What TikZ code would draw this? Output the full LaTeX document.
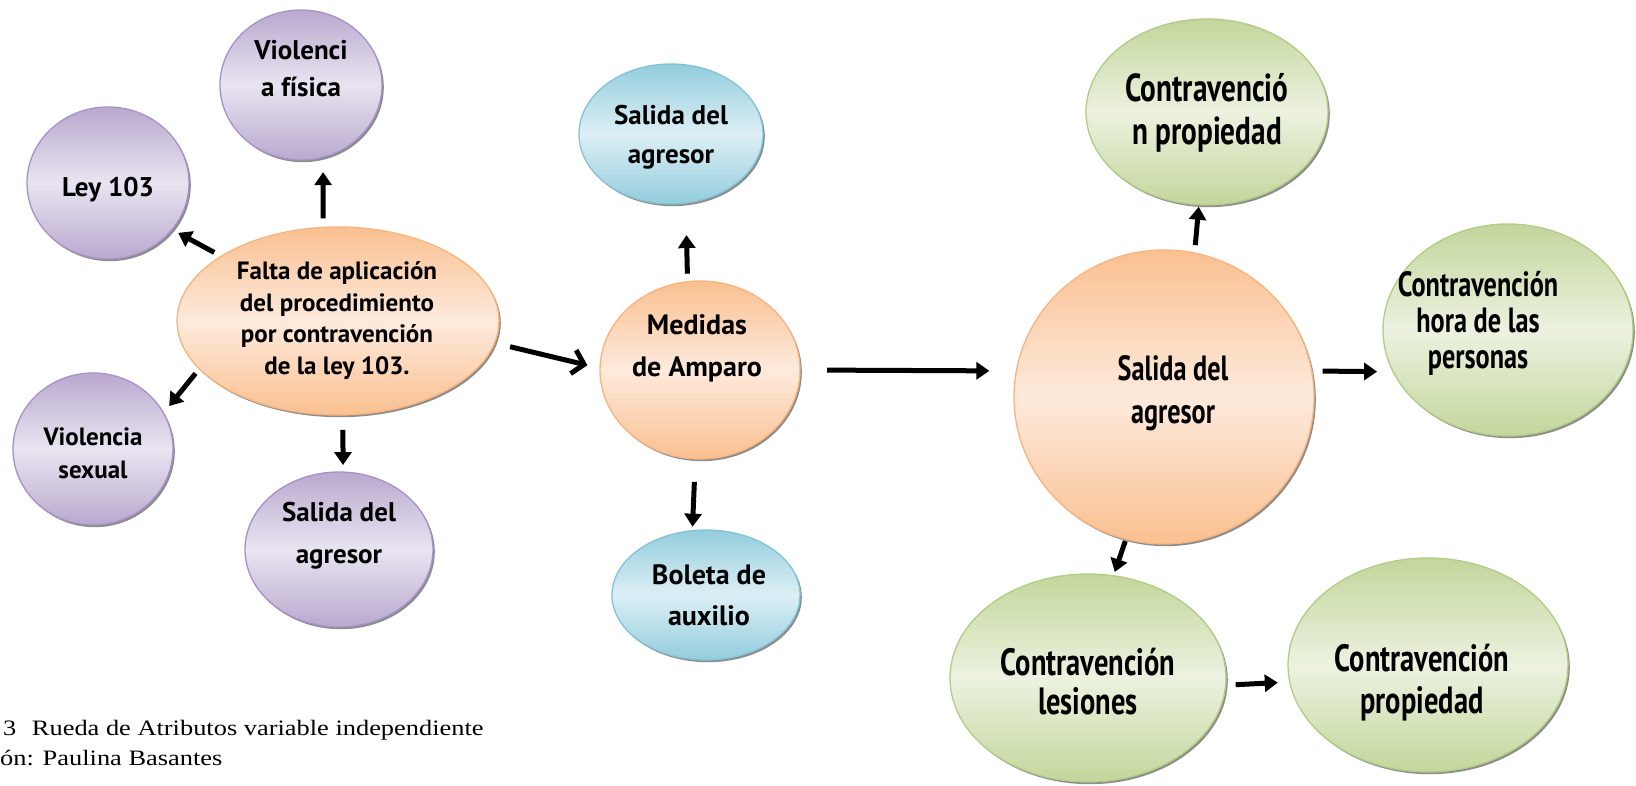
\documentclass[tikz,border=0pt]{standalone}
\usepackage{fontspec}
\newfontfamily\nfont{PT Sans}
\newfontfamily\cfont{Liberation Serif}
\usetikzlibrary{arrows.meta,shapes.geometric,shadows}
\definecolor{purD}{HTML}{B9A9CE}
\definecolor{purL}{HTML}{E9E4F1}
\definecolor{purE}{HTML}{A692C9}
\definecolor{oraD}{HTML}{FAC090}
\definecolor{oraL}{HTML}{FDEADC}
\definecolor{oraE}{HTML}{F8B47E}
\definecolor{bluD}{HTML}{93CDDD}
\definecolor{bluL}{HTML}{DCEFF5}
\definecolor{bluE}{HTML}{84C3D6}
\definecolor{greD}{HTML}{C3D69B}
\definecolor{greL}{HTML}{ECF2E0}
\definecolor{greE}{HTML}{B2CB85}
\newcommand{\cnd}[3]{\scalebox{0.75}[1]{\fontsize{#1}{#2}\selectfont\begin{tabular}{@{}c@{}}#3\end{tabular}}}
\tikzset{
  bub/.style={ellipse, inner sep=0pt, outer sep=0pt, line width=1.3pt, shading=axis, shading angle=-45,
    drop shadow={shadow xshift=1.8pt, shadow yshift=-2.2pt, fill=black!45, opacity=1}},
  pur/.style={bub, draw=purE, top color=purD, bottom color=purD, middle color=purL},
  ora/.style={bub, draw=oraE, top color=oraD, bottom color=oraD, middle color=oraL},
  blu/.style={bub, draw=bluE, top color=bluD, bottom color=bluD, middle color=bluL},
  gre/.style={bub, draw=greE, top color=greD, bottom color=greD, middle color=greL},
  lbl/.style={inner sep=0pt, align=center, text=black, font=\nfont\bfseries},
  fs/.style 2 args={font=\nfont\bfseries\fontsize{#1}{#2}\selectfont},
  arr/.style={line width=5pt, -{Triangle[length=13pt,width=17pt]}},
  barb/.style={line width=5pt, -{Straight Barb[length=11pt,width=24pt]}},
}
\begin{document}
\begin{tikzpicture}[x=1pt,y=-1pt]
\useasboundingbox (0,0) rectangle (1636,786);
% ellipses
\node[pur, minimum width=162pt, minimum height=150pt] (vf) at (301,85) {};
\node[pur, minimum width=162pt, minimum height=152pt] (ley) at (108,183) {};
\node[ora, minimum width=322pt, minimum height=188pt] (falta) at (338,321) {};
\node[pur, minimum width=160pt, minimum height=152pt] (vs) at (93,449) {};
\node[pur, minimum width=188pt, minimum height=155pt] (sp) at (339,549.5) {};
\node[blu, minimum width=184pt, minimum height=140pt] (sb) at (671,134) {};
\node[ora, minimum width=200pt, minimum height=178pt] (med) at (700,370) {};
\node[blu, minimum width=188pt, minimum height=130pt] (bol) at (706,595) {};
\node[ora, minimum width=300pt, minimum height=294pt] (big) at (1164,397) {};
\node[gre, minimum width=242pt, minimum height=186pt] (cp) at (1207,112) {};
\node[gre, minimum width=250pt, minimum height=212pt] (ch) at (1508,330) {};
\node[gre, minimum width=276pt, minimum height=208pt] (les) at (1088,678) {};
\node[gre, minimum width=280pt, minimum height=214pt] (pb) at (1428,665) {};
% texts
\node[lbl, fs={27}{37}] (vft) at (301,68.5) {Violenci\\a física};
\node[lbl, fs={27}{37}] (leyt) at (108,190) {Ley 103};
\node[lbl, fs={25}{31.7}] (faltat) at (337,320.5) {Falta de aplicación\\del procedimiento\\por contravención\\de la ley 103.};
\node[lbl, fs={25}{33}] (vst) at (93,453) {Violencia\\sexual};
\node[lbl, fs={27}{42}] (spt) at (339,536) {Salida del\\agresor};
\node[lbl, fs={27}{39}] (sbt) at (671,137) {Salida del\\agresor};
\node[lbl, fs={28}{42}] (medt) at (697,348) {Medidas\\de Amparo};
\node[lbl, fs={28}{41}] (bolt) at (709,595) {Boleta de\\auxilio};
\node[lbl] (bigt) at (1173,393) {\cnd{35}{43}{Salida del\\agresor}};
\node[lbl] (cpt) at (1207,114) {\cnd{39}{43}{Contravenció\\n propiedad}};
\node[lbl] (cht) at (1478,325) {\cnd{35}{36}{Contravención\\hora de las\\personas}};
\node[lbl] (lest) at (1088,687) {\cnd{38}{39}{Contravención\\lesiones}};
\node[lbl] (pbt) at (1422,684) {\cnd{38}{42}{Contravención\\propiedad}};
% arrows
\draw[arr, shorten <=8pt, shorten >=7pt] (falta.151) -- (ley.-36);
\draw[arr, shorten <=9pt, shorten >=15pt] (falta.99) -- (vf.-73);
\draw[arr, shorten <=6pt, shorten >=9pt] (falta.199) -- (vs.27);
\draw[arr, shorten <=15pt, shorten >=7pt] (falta.-87) -- (sp.87);
\draw[barb, shorten <=16pt, shorten >=13pt] (falta.-8) -- (med.179);
\draw[arr, shorten <=8pt, shorten >=32pt] (med.98) -- (sb.-78);
\draw[arr, shorten <=23pt, shorten >=4pt] (med.-93) -- (bol.102);
\draw[arr, shorten <=27pt, shorten >=27pt] (med.east) -- (big.170);
\draw[arr, shorten <=8pt, shorten >=2pt] (big.78) -- (cp.-95);
\draw[arr, shorten <=11pt, shorten >=16pt] (big.10) -- (ch.200);
\draw[arr, shorten <=2pt, shorten >=4pt] (big.-105) -- (les.76);
\draw[arr, shorten <=10pt, shorten >=12pt] (les.-3) -- (pb.187);
% caption
\node[anchor=base west, inner sep=0pt] (cap1) at (3,735) {\scalebox{1.2}[1]{\cfont\fontsize{22}{26}\selectfont 3\hspace{13pt}Rueda de Atributos variable independiente}};
\node[anchor=base west, inner sep=0pt] (cap2) at (0,765) {\scalebox{1.2}[1]{\cfont\fontsize{22}{26}\selectfont ón: Paulina Basantes}};
\end{tikzpicture}
\end{document}
